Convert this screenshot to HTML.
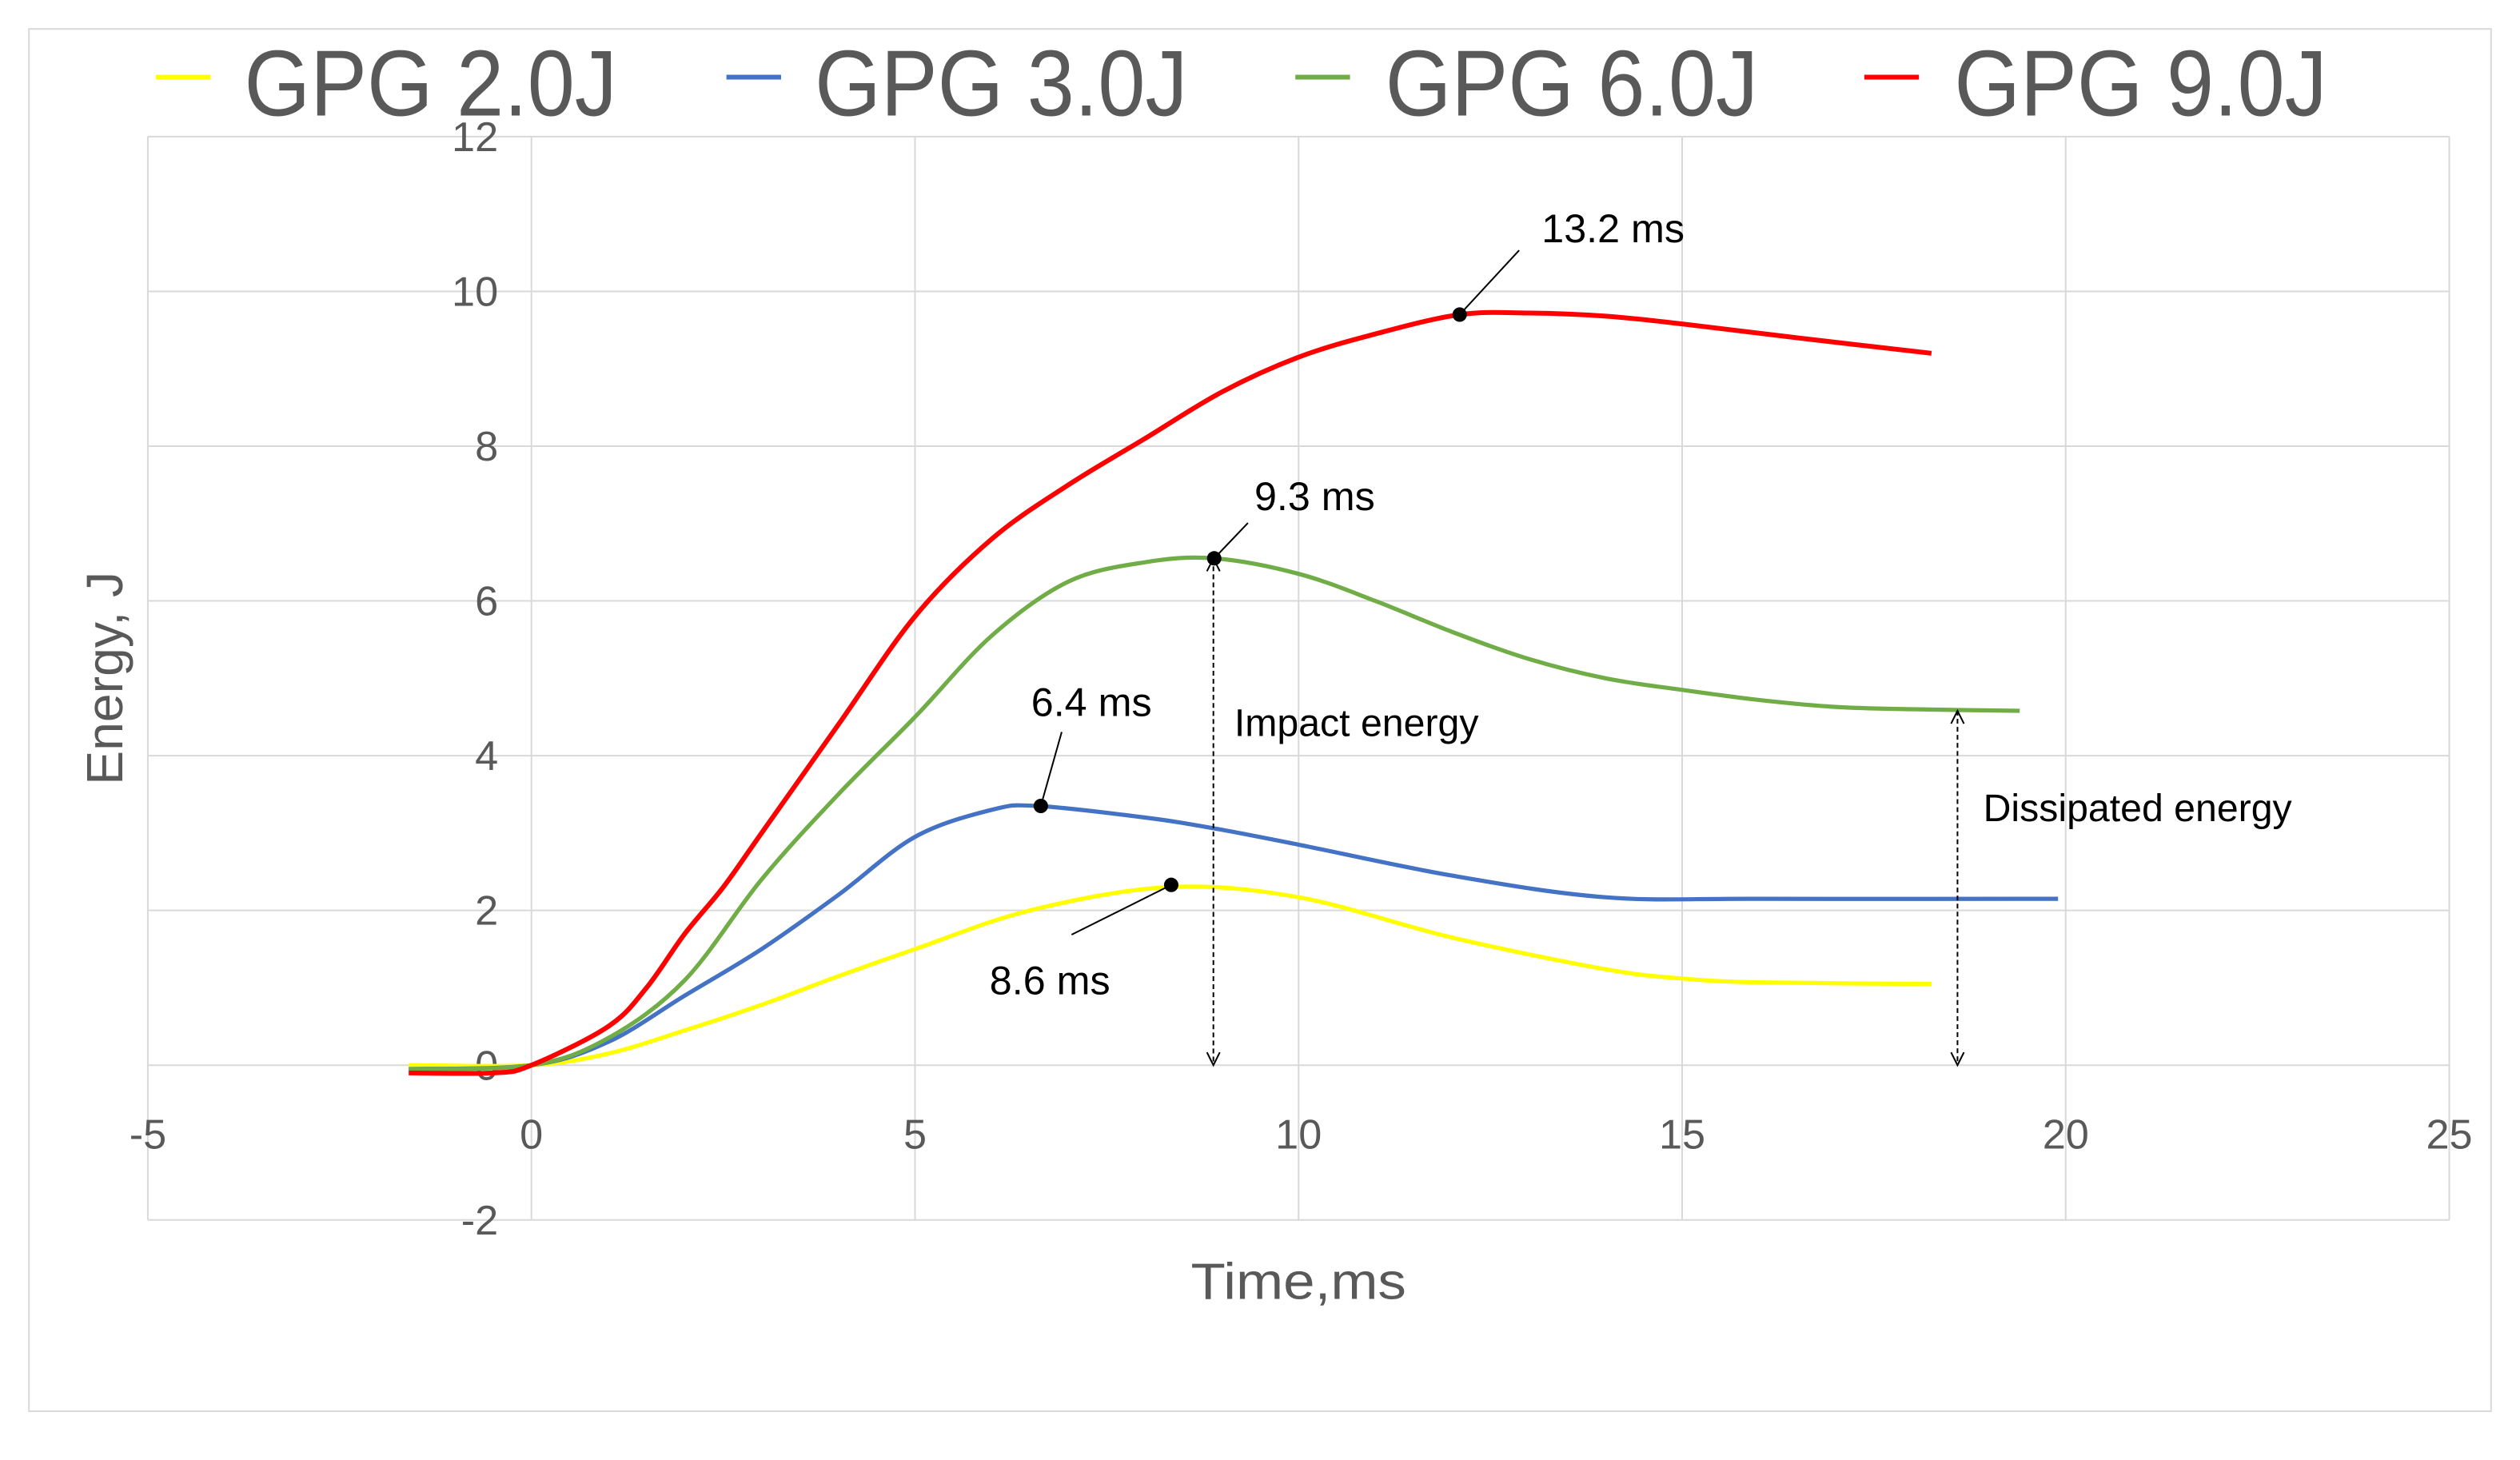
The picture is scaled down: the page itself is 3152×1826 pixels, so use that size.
<!DOCTYPE html>
<html><head><meta charset="utf-8">
<style>
html,body{margin:0;padding:0;background:#fff;}
svg{display:block;}
text{font-family:"Liberation Sans",sans-serif;}
</style></head>
<body>
<svg id="chart" width="3152" height="1826" viewBox="0 0 1568 908.35" xmlns="http://www.w3.org/2000/svg">
<rect x="18" y="18" width="1532" height="860" fill="#fff" stroke="#d9d9d9" stroke-width="1"/>
<g id="grid"></g>
<g id="ticks"></g>
<g id="series"></g>
<g id="annot"></g>
<g>
 <g><line x1="97" y1="48" x2="131" y2="48" stroke="#ffff00" stroke-width="3"/><text x="152" y="72" font-size="58" fill="#595959" textLength="232" lengthAdjust="spacingAndGlyphs">GPG 2.0J</text></g>
 <g><line x1="452" y1="48" x2="486" y2="48" stroke="#4472c4" stroke-width="3"/><text x="507" y="72" font-size="58" fill="#595959" textLength="232" lengthAdjust="spacingAndGlyphs">GPG 3.0J</text></g>
 <g><line x1="806" y1="48" x2="840" y2="48" stroke="#70ad47" stroke-width="3"/><text x="862" y="72" font-size="58" fill="#595959" textLength="232" lengthAdjust="spacingAndGlyphs">GPG 6.0J</text></g>
 <g><line x1="1160" y1="48" x2="1194" y2="48" stroke="#ff0000" stroke-width="3"/><text x="1216" y="72" font-size="58" fill="#595959" textLength="232" lengthAdjust="spacingAndGlyphs">GPG 9.0J</text></g>
</g>
<text x="808" y="808" font-size="32" fill="#595959" text-anchor="middle" textLength="134" lengthAdjust="spacingAndGlyphs">Time,ms</text>
<text transform="translate(76,422) rotate(-90)" font-size="32" fill="#595959" text-anchor="middle">Energy, J</text>
</svg>
<script>
const xTicks = [-5, 0, 5, 10, 15, 20, 25];
const yTicks = [-2, 0, 2, 4, 6, 8, 10, 12];
const t2 = [-1.6, 0, 1, 2, 3, 4, 5, 6.5, 8.3, 10, 12, 14, 15, 16, 18.25];
const e2 = [0, 0, 0.15, 0.45, 0.78, 1.15, 1.5, 2.0, 2.3, 2.17, 1.65, 1.24, 1.12, 1.07, 1.05];
const t3 = [-1.6, 0, 1, 2, 3, 4, 5, 6, 6.6, 8, 8.9, 10, 12, 14, 16, 19.9];
const e3 = [-0.05, 0, 0.3, 0.9, 1.5, 2.2, 2.95, 3.3, 3.35, 3.2, 3.06, 2.85, 2.45, 2.17, 2.15, 2.15];
const t6 = [-1.6, 0, 1, 2, 3, 4, 5, 6, 7, 8, 8.9, 10, 11, 12, 13, 14, 15, 16, 17, 18, 19.4];
const e6 = [-0.05, 0, 0.35, 1.1, 2.4, 3.5, 4.5, 5.55, 6.25, 6.5, 6.55, 6.35, 6.0, 5.6, 5.25, 5.0, 4.85, 4.72, 4.63, 4.6, 4.58];
const t9 = [-1.6, -0.5, 0, 1, 1.5, 2, 2.5, 3, 4, 5, 6, 7, 8, 9, 10, 11, 12.1, 13, 14, 15, 16.5, 18.25];
const e9 = [-0.1, -0.1, 0, 0.5, 1.0, 1.7, 2.3, 3.0, 4.4, 5.8, 6.8, 7.5, 8.1, 8.7, 9.15, 9.45, 9.7, 9.72, 9.68, 9.58, 9.4, 9.2];
const peakT = [12.1, 8.9, 6.64, 8.34];
const peakE = [9.7, 6.55, 3.35, 2.33];
const peakLabels = ["13.2 ms", "9.3 ms", "6.4 ms", "8.6 ms"];

const NS = "http://www.w3.org/2000/svg";
const X0 = 92, X1 = 1524, Y0 = 85, Y1 = 759;
function xs(t){ return X0 + (t + 5) / 30 * (X1 - X0); }
function ys(e){ return Y0 + (12 - e) / 14 * (Y1 - Y0); }
function mk(tag, attrs, parent){ const el = document.createElementNS(NS, tag); for (const k in attrs) el.setAttribute(k, attrs[k]); parent.appendChild(el); return el; }

const grid = document.getElementById('grid');
const ticks = document.getElementById('ticks');
xTicks.forEach(v => {
  const l = mk('line', {x1: xs(v), x2: xs(v), y1: Y0, y2: Y1, stroke: '#d9d9d9', 'stroke-width': 1}, grid);
  
  
  const t = mk('text', {x: xs(v), y: ys(0) + 52, 'font-size': 26, fill: '#595959', 'text-anchor': 'middle'}, ticks);
  t.textContent = v;
  
  
});
yTicks.forEach(v => {
  const l = mk('line', {x1: X0, x2: X1, y1: ys(v), y2: ys(v), stroke: '#d9d9d9', 'stroke-width': 1}, grid);
  
  
  const t = mk('text', {x: 310, y: ys(v) + 9, 'font-size': 26, fill: '#595959', 'text-anchor': 'end'}, ticks);
  t.textContent = v;
  
  
});

function pathD(ts, es){
  const p = ts.map((t, i) => [xs(t), ys(es[i])]);
  let d = 'M' + p[0][0] + ',' + p[0][1];
  for (let i = 0; i < p.length - 1; i++){
    const a = p[Math.max(0, i - 1)], b = p[i], c = p[i + 1], e = p[Math.min(p.length - 1, i + 2)];
    const c1x = b[0] + (c[0] - a[0]) / 6, c1y = b[1] + (c[1] - a[1]) / 6;
    const c2x = c[0] - (e[0] - b[0]) / 6, c2y = c[1] - (e[1] - b[1]) / 6;
    d += ' C' + c1x + ',' + c1y + ' ' + c2x + ',' + c2y + ' ' + c[0] + ',' + c[1];
  }
  return d;
}
const seriesG = document.getElementById('series');
const s2 = mk('path', {d: pathD(t2, e2), fill: 'none', stroke: '#ffff00', 'stroke-width': 2.6}, seriesG);


const s3 = mk('path', {d: pathD(t3, e3), fill: 'none', stroke: '#4472c4', 'stroke-width': 2.6}, seriesG);


const s6 = mk('path', {d: pathD(t6, e6), fill: 'none', stroke: '#70ad47', 'stroke-width': 2.6}, seriesG);


const s9 = mk('path', {d: pathD(t9, e9), fill: 'none', stroke: '#ff0000', 'stroke-width': 3}, seriesG);



const an = document.getElementById('annot');
const labelOff = [[51, -54, 37, -40], [25, -39, 21, -22], [-6, -65, 13, -46], [-113, 59, -62, 31]];
peakT.forEach((t, i) => {
  const px = xs(t), py = ys(peakE[i]);
  const o = labelOff[i];
  const ln = mk('line', {x1: px, y1: py, x2: px + o[2], y2: py + o[3], stroke: '#000', 'stroke-width': 1}, an);
  
  
  const c = mk('circle', {cx: px, cy: py, r: 4.5, fill: '#000'}, an);
  
  
  const tx = mk('text', {x: px + o[0], y: py + o[1] + 9, 'font-size': 25, fill: '#000'}, an);
  tx.textContent = peakLabels[i];
  
  
});
function dArrow(x, ya, yb){
  mk('line', {x1: x, y1: ya, x2: x, y2: yb, stroke: '#000', 'stroke-width': 1, 'stroke-dasharray': '3,2'}, an);
  mk('path', {d: `M${x-4},${ya+8} L${x},${ya} L${x+4},${ya+8}`, fill: 'none', stroke: '#000', 'stroke-width': 1}, an);
  mk('path', {d: `M${x-4},${yb-8} L${x},${yb} L${x+4},${yb-8}`, fill: 'none', stroke: '#000', 'stroke-width': 1}, an);
}
dArrow(755, ys(6.55), ys(0));
dArrow(1218, ys(4.58), ys(0));
const t1 = mk('text', {x: 768, y: 458, 'font-size': 24, fill: '#000'}, an);
t1.textContent = 'Impact energy';


const t2l = mk('text', {x: 1234, y: 511, 'font-size': 24, fill: '#000'}, an);
t2l.textContent = 'Dissipated energy';


</script>
</body></html>
